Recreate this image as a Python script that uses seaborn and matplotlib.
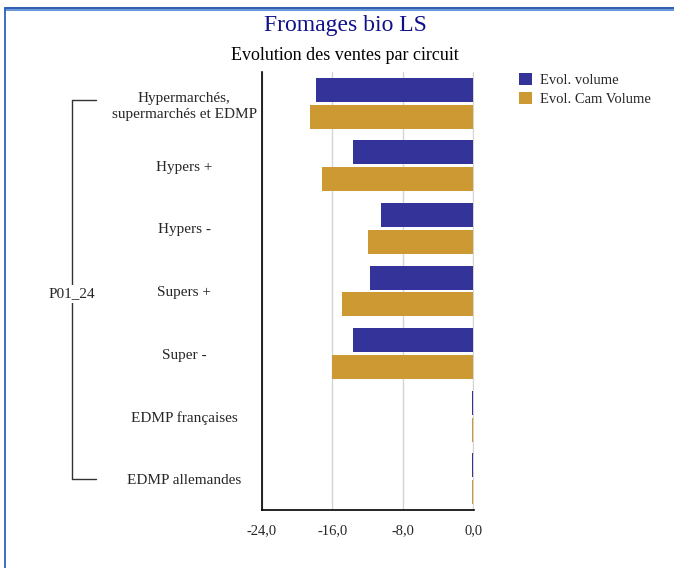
"""Fromages bio LS: evolution des ventes par circuit (horizontal grouped bars)."""

import matplotlib

matplotlib.use("Agg")

import matplotlib.pyplot as plt
import matplotlib.transforms as mtransforms
import pandas as pd
import seaborn as sns
from matplotlib.lines import Line2D
from matplotlib.patches import Patch

circuits = [
    "Hypermarchés,\nsupermarchés et EDMP",
    "Hypers +",
    "Hypers -",
    "Supers +",
    "Super -",
    "EDMP françaises",
    "EDMP allemandes",
]
evol_volume = [-17.9, -13.7, -10.5, -11.7, -13.6, -0.15, -0.15]
evol_cam_volume = [-18.5, -17.2, -12.0, -14.9, -16.0, -0.15, -0.15]
series_names = ["Evol. volume", "Evol. Cam Volume"]
x_ticks = [-24.0, -16.0, -8.0, 0.0]
group_label = "P01_24"

BLUE = "#333399"
GOLD = "#cc9933"
SERIF = ["Liberation Serif", "DejaVu Serif"]

frame = pd.DataFrame(
    {
        "circuit": circuits * 2,
        "serie": [series_names[0]] * len(circuits) + [series_names[1]] * len(circuits),
        "valeur": evol_volume + evol_cam_volume,
    }
)

sns.set_style("white")
plt.rcParams["font.family"] = SERIF

fig = plt.figure(figsize=(6.74, 5.68), dpi=100)
ax = fig.add_axes([262 / 674, 1 - 510 / 568, 212 / 674, 438 / 568])

ax.xaxis.grid(True, color="#d4d4d4", linewidth=1)
ax.set_axisbelow(True)
sns.barplot(
    data=frame,
    x="valeur",
    y="circuit",
    hue="serie",
    order=circuits,
    hue_order=series_names,
    palette=[BLUE, GOLD],
    orient="h",
    width=0.86,
    gap=0.11,
    saturation=1,
    legend=False,
    linewidth=0,
    edgecolor="none",
    ax=ax,
)

ax.set_xlim(-24, 0.1)
ax.set_ylim(len(circuits) - 0.5, -0.5)
ax.set_xticks(x_ticks)
ax.set_xticklabels([f"{t:.1f}".replace(".", ",") for t in x_ticks], fontsize=10.5)
ax.set_xlabel("")
ax.set_ylabel("")
ax.tick_params(axis="x", length=0, pad=10)
ax.tick_params(axis="y", length=0, pad=56)
for label in ax.get_yticklabels():
    label.set_ha("center")
    label.set_fontsize(11)
    label.set_linespacing(1.3)
for side in ["top", "right"]:
    ax.spines[side].set_visible(False)
for side in ["left", "bottom"]:
    ax.spines[side].set_color("black")
    ax.spines[side].set_linewidth(1.2)

fig.text(345 / 674, 1 - 26 / 568, "Fromages bio LS", ha="center", va="center",
         fontsize=17, color="#10108a")
fig.text(345 / 674, 1 - 56 / 568, "Evolution des ventes par circuit", ha="center",
         va="center", fontsize=13, color="black")

handles = [Patch(facecolor=BLUE, edgecolor="none"), Patch(facecolor=GOLD, edgecolor="none")]
fig.legend(handles, series_names, loc="upper left", bbox_to_anchor=(506 / 674, 1 - 60 / 568),
           frameon=False, fontsize=10.5, handlelength=0.9, handleheight=0.9,
           handletextpad=0.5, labelspacing=0.35)

# bracket grouping all circuits under the period label
trans = mtransforms.blended_transform_factory(fig.transFigure, ax.transData)
bx, bend = 72 / 674, 96 / 674
top_y, bot_y = -0.05, len(circuits) - 1
for line in [
    Line2D([bx, bx], [top_y, bot_y], transform=trans),
    Line2D([bx, bend], [top_y, top_y], transform=trans),
    Line2D([bx, bend], [bot_y, bot_y], transform=trans),
]:
    line.set_color("#333333")
    line.set_linewidth(1)
    fig.add_artist(line)
fig.text(bx, 1 - 294 / 568, group_label, ha="center", va="center", fontsize=11,
         bbox=dict(facecolor="white", edgecolor="none", pad=2))

# blue frame around the chart
for xs, ys, color in [
    ([5 / 674, 1], [1 - 8 / 568, 1 - 8 / 568], "#1f4fa8"),
    ([5 / 674, 1], [1 - 9.5 / 568, 1 - 9.5 / 568], "#5b8fd9"),
    ([5 / 674, 5 / 674], [0, 1 - 8 / 568], "#2a63c4"),
]:
    fig.add_artist(Line2D(xs, ys, color=color, linewidth=1.3))

fig.savefig("out.png", dpi=100)
plt.close(fig)
